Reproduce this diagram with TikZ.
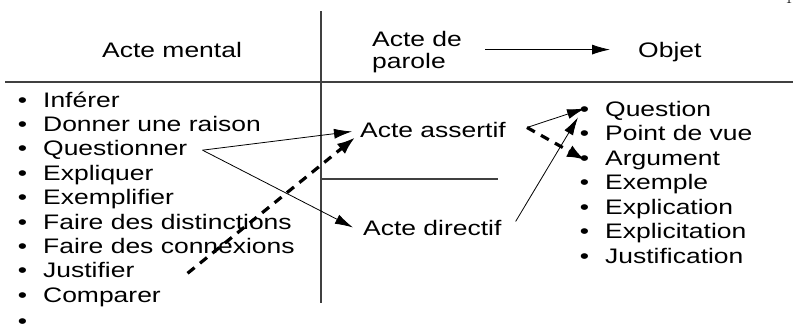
\documentclass[tikz,border=0pt]{standalone}
\usepackage{fontspec}
\setmainfont{Liberation Sans}[FakeStretch=1.26]
\newfontfamily\pagefont{Latin Modern Roman}
\usetikzlibrary{arrows.meta,calc}
\begin{document}
\begin{tikzpicture}[x=1pt,y=-1pt,
  txt/.style={anchor=base west,inner sep=0pt,font=\fontsize{21}{22}\selectfont},
  litem/.style={txt},
  frame/.style={draw=black!75,line width=1.1pt},
  thin/.style={draw=black,line width=0.8pt,-{Latex[length=18pt,width=10pt]}},
  thick/.style={draw=black,line width=3.2pt,dash pattern=on 9pt off 7pt,-{Latex[length=18pt,width=13pt]}}]
\useasboundingbox (0,0) rectangle (793,324);
\newcommand{\bul}{\llap{\textbullet\hspace{16pt}}}
% frame
\draw[frame] (321,11) -- (321,303);
\draw[frame] (5,82) -- (793,82);
\draw[frame] (321,179) -- (498,179);
% page number fragment
\node[anchor=base,inner sep=0pt,font=\pagefont\fontsize{14}{14}\selectfont] (pg) at (789,3) {1};
% headers
\node[txt] (hm) at (102,57) {Acte mental};
\node[txt,align=left] (hp) at (372,68) {Acte de\\parole};
\node[txt] (ho) at (638,57) {Objet};
\draw[thin] ($(ho.west)+(-153,-2)$) -- ($(ho.west)+(-28,-2)$);
% left list
\node[litem] (l1) at (43,107) {\bul Inférer};
\node[litem] (l2) at (43,131.4) {\bul Donner une raison};
\node[litem] (l3) at (43,155.8) {\bul Questionner};
\node[litem] (l4) at (43,180.2) {\bul Expliquer};
\node[litem] (l5) at (43,204.6) {\bul Exemplifier};
\node[litem] (l6) at (43,229) {\bul Faire des distinctions};
\node[litem] (l7) at (43,253.4) {\bul Faire des connexions};
\node[litem] (l8) at (43,277.8) {\bul Justifier};
\node[litem] (l9) at (43,302.2) {\bul Comparer};
\node[litem] (l10) at (43,328) {\bul ...};
% middle
\node[txt] (aa) at (360,137) {Acte assertif};
\node[txt] (ad) at (363,235) {Acte directif};
% right list
\node[litem] (r1) at (605,116) {\bul Question};
\node[litem] (r2) at (605,140.5) {\bul Point de vue};
\node[litem] (r3) at (605,165) {\bul Argument};
\node[litem] (r4) at (605,189.5) {\bul Exemple};
\node[litem] (r5) at (605,214) {\bul Explication};
\node[litem] (r6) at (605,238.5) {\bul Explicitation};
\node[litem] (r7) at (605,263) {\bul Justification};
% connectors
\coordinate (qs) at ($(l3.east)+(15,0)$);
\draw[thin] (qs) -- ($(aa.west)+(-8,2)$);
\draw[thin] (qs) -- ($(ad.west)+(-10,0)$);
\coordinate (ds) at ($(l8.east)+(53,3)$);
\draw[thick] (ds) -- ($(aa.west)+(-5,8)$);
\coordinate (as) at ($(aa.east)+(21,-2)$);
\draw[thin] (as) -- ($(r1.west)+(-20,-2)$);
\draw[thick] (as) -- ($(r3.west)+(-20,0)$);
\draw[thin] ($(ad.east)+(14,-6)$) -- ($(r1.west)+(-27,7)$);
\end{tikzpicture}
\end{document}
